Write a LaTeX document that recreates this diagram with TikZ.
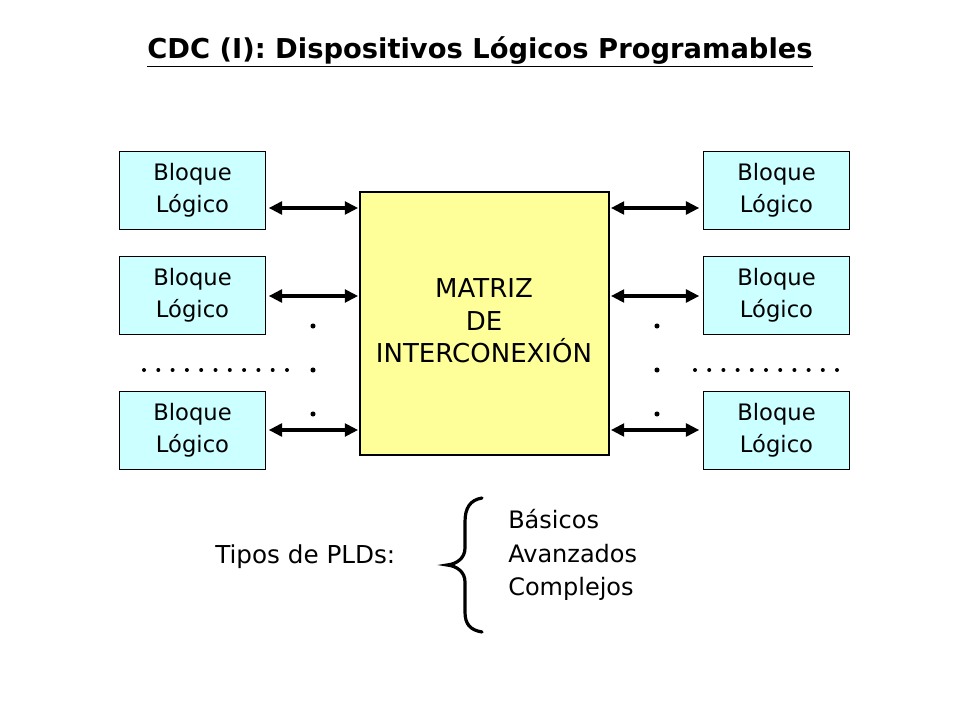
\documentclass[tikz,border=0pt]{standalone}
\usepackage{fontspec}
\setmainfont{DejaVu Sans}
\usetikzlibrary{arrows.meta}
\definecolor{blq}{HTML}{CCFFFF}
\definecolor{mtz}{HTML}{FFFF99}
\begin{document}
\begin{tikzpicture}[x=0.75pt,y=-0.75pt,
  txt/.style={font=\fontsize{17}{24}\selectfont, inner sep=0pt},
  blk/.style={txt, draw=black, line width=0.8pt, fill=blq, minimum width=109pt, minimum height=58pt, align=center},
  conn/.style={line width=2.8pt, {Triangle[length=10pt,width=9.5pt]}-{Triangle[length=10pt,width=9.5pt]}},
  dotn/.style={circle, fill=black, inner sep=0pt, minimum size=3.8pt},
  hdot/.style={circle, fill=black, inner sep=0pt, minimum size=3pt}
]
\useasboundingbox (0,0) rectangle (960,720);
% title
\node[font=\bfseries\fontsize{20.5}{24}\selectfont, inner sep=0pt] (title) at (480,52) {\underline{CDC (I): Dispositivos Lógicos Programables}};
% matrix
\node[draw=black, line width=0.8pt, fill=mtz, minimum width=186.75pt, minimum height=197.25pt, inner sep=0pt] (m) at (484.5,323.5) {};
\node[txt, align=center, font=\fontsize{19.5}{24.5}\selectfont] (mt) at (484,321) {MATRIZ\\ DE\\INTERCONEXIÓN};
% blocks
\node[blk] (l1) at (192.5,190.5) {Bloque\\Lógico};
\node[blk] (l2) at (192.5,295.5) {Bloque\\Lógico};
\node[blk] (l3) at (192.5,430.5) {Bloque\\Lógico};
\node[blk] (r1) at (776.5,190.5) {Bloque\\Lógico};
\node[blk] (r2) at (776.5,295.5) {Bloque\\Lógico};
\node[blk] (r3) at (776.5,430.5) {Bloque\\Lógico};
% connectors
\coordinate (ml1) at (m.west |- 0,208);
\coordinate (ml2) at (m.west |- 0,296);
\coordinate (ml3) at (m.west |- 0,430);
\coordinate (mr1) at (m.east |- 0,208);
\coordinate (mr2) at (m.east |- 0,296);
\coordinate (mr3) at (m.east |- 0,430);
\draw[conn] (l1.east |- ml1) ++(3,0) -- ([xshift=-1]ml1);
\draw[conn] (l2.east |- ml2) ++(3,0) -- ([xshift=-1]ml2);
\draw[conn] (l3.east |- ml3) ++(3,0) -- ([xshift=-1]ml3);
\draw[conn] ([xshift=1]mr1) -- ([xshift=-3]r1.west |- mr1);
\draw[conn] ([xshift=1]mr2) -- ([xshift=-3]r2.west |- mr2);
\draw[conn] ([xshift=1]mr3) -- ([xshift=-3]r3.west |- mr3);
% vertical dots
\foreach \y [count=\i] in {326,370,414} {
  \node[dotn] (vl\i) at (313,\y) {};
  \node[dotn] (vr\i) at (657,\y) {};
}
% horizontal dots
\foreach \i in {0,...,10} {
  \node[hdot] (hl\i) at (144+14.3*\i,370) {};
  \node[hdot] (hr\i) at (695+14.2*\i,370) {};
}
% types
\node[txt, anchor=west, font=\fontsize{18.5}{24}\selectfont] (tipos) at (215,557) {Tipos de PLDs:};
\draw[line width=2.4pt, line cap=round] (482,498) .. controls (470,500) and (465,508) .. (465,522)
  -- (465,548) .. controls (465,558) and (457,564) .. (447,565)
  .. controls (457,566) and (465,572) .. (465,582)
  -- (465,612) .. controls (465,624) and (470,630) .. (482,632);
\node[txt, font=\fontsize{18}{25}\selectfont, align=left, anchor=west] (lista) at (508,555) {Básicos\\Avanzados\\Complejos};
\end{tikzpicture}
\end{document}
